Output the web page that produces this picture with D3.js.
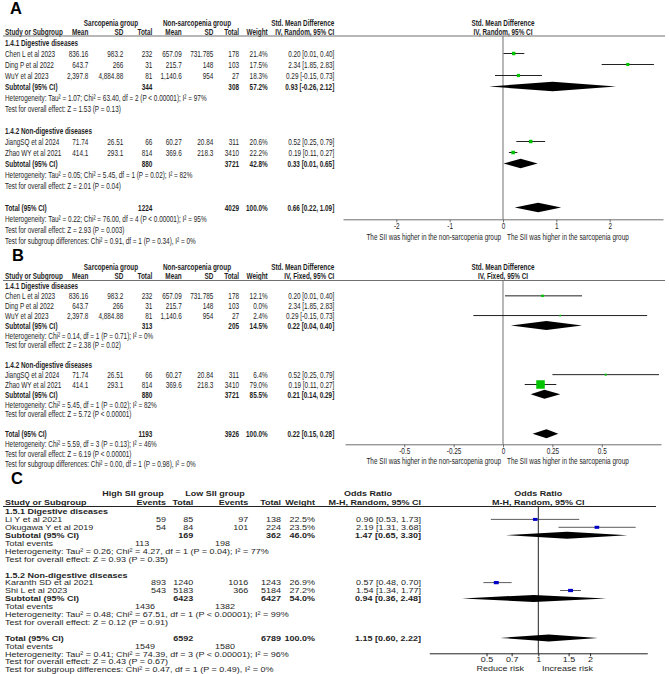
<!DOCTYPE html>
<html lang="en">
<head>
<meta charset="UTF-8">
<title>Forest plots</title>
<script src="https://d3js.org/d3.v7.min.js"></script>
<style>
  body { margin: 0; background: #fff; }
  svg text { font-family: "Liberation Sans", Arial, sans-serif; fill: #1e1e1e; }
</style>
</head>
<body>
<div id="chart"></div>
<script>
// ---- panels A and B: same five studies, std. mean difference ----
const subgroupsAB = ["1.4.1 Digestive diseases", "1.4.2 Non-digestive diseases"];
const studiesAB = ["Chen L et al 2023", "Ding P et al 2022", "WuY et al 2023", "JiangSQ et al 2024", "Zhao WY et al 2021"];
const studyGroupAB = [0, 0, 0, 1, 1];
const sarcMean = ["836.16", "643.7", "2,397.8", "71.74", "414.1"];
const sarcSD = ["983.2", "266", "4,884.88", "26.51", "293.1"];
const sarcN = [232, 31, 81, 66, 814];
const nonMean = ["657.09", "215.7", "1,140.6", "60.27", "369.6"];
const nonSD = ["731.785", "148", "954", "20.84", "218.3"];
const nonN = [178, 103, 27, 311, 3410];
const smd = [0.20, 2.34, 0.29, 0.52, 0.19];
const smdLo = [0.01, 1.85, -0.15, 0.25, 0.11];
const smdHi = [0.40, 2.83, 0.73, 0.79, 0.27];

// A - random effects
const weightA = [21.4, 17.5, 18.3, 20.6, 22.2];
const subNA = [[344, 308], [880, 3721]];
const subWeightA = [57.2, 42.8];
const subEstA = [[0.93, -0.26, 2.12], [0.33, 0.01, 0.65]];
const totalNA = [1224, 4029];
const totalEstA = [0.66, 0.22, 1.09];
const hetSubA = ["Heterogeneity: Tau\u00b2 = 1.07; Chi\u00b2 = 63.40, df = 2 (P < 0.00001); I\u00b2 = 97%",
                 "Heterogeneity: Tau\u00b2 = 0.05; Chi\u00b2 = 5.45, df = 1 (P = 0.02); I\u00b2 = 82%"];
const testSubA = ["Test for overall effect: Z = 1.53 (P = 0.13)", "Test for overall effect: Z = 2.01 (P = 0.04)"];
const totalTextA = ["Heterogeneity: Tau\u00b2 = 0.22; Chi\u00b2 = 76.00, df = 4 (P < 0.00001); I\u00b2 = 95%",
                    "Test for overall effect: Z = 2.93 (P = 0.003)",
                    "Test for subgroup differences: Chi\u00b2 = 0.91, df = 1 (P = 0.34), I\u00b2 = 0%"];
const ticksA = [-2, -1, 0, 1, 2];

// B - fixed effect
const weightB = [12.1, 0.0, 2.4, 6.4, 79.0];
const subNB = [[313, 205], [880, 3721]];
const subWeightB = [14.5, 85.5];
const subEstB = [[0.22, 0.04, 0.40], [0.21, 0.14, 0.29]];
const totalNB = [1193, 3926];
const totalEstB = [0.22, 0.15, 0.28];
const hetSubB = ["Heterogeneity: Chi\u00b2 = 0.14, df = 1 (P = 0.71); I\u00b2 = 0%",
                 "Heterogeneity: Chi\u00b2 = 5.45, df = 1 (P = 0.02); I\u00b2 = 82%"];
const testSubB = ["Test for overall effect: Z = 2.38 (P = 0.02)", "Test for overall effect: Z = 5.72 (P < 0.00001)"];
const totalTextB = ["Heterogeneity: Chi\u00b2 = 5.59, df = 3 (P = 0.13); I\u00b2 = 46%",
                    "Test for overall effect: Z = 6.19 (P < 0.00001)",
                    "Test for subgroup differences: Chi\u00b2 = 0.00, df = 1 (P = 0.98), I\u00b2 = 0%"];
const ticksB = [-0.5, -0.25, 0, 0.25, 0.5];

// ---- panel C: odds ratios ----
const subgroupsC = ["1.5.1 Digestive diseases", "1.5.2 Non-digestive diseases"];
const studiesC = ["Li Y et al 2021", "Okugawa Y et al 2019", "Karanth SD et al 2021", "Shi L et al 2023"];
const studyGroupC = [0, 0, 1, 1];
const highEvents = [59, 54, 893, 543];
const highTotal = [85, 84, 1240, 5183];
const lowEvents = [97, 101, 1016, 366];
const lowTotal = [138, 224, 1243, 5184];
const weightC = [22.5, 23.5, 26.9, 27.2];
const orEst = [0.96, 2.19, 0.57, 1.54];
const orLo = [0.53, 1.31, 0.48, 1.34];
const orHi = [1.73, 3.68, 0.70, 1.77];
const subNC = [[169, 362], [6423, 6427]];
const subEventsC = [[113, 198], [1436, 1382]];
const subWeightC = [46.0, 54.0];
const subEstC = [[1.47, 0.65, 3.30], [0.94, 0.36, 2.48]];
const hetSubC = ["Heterogeneity: Tau\u00b2 = 0.26; Chi\u00b2 = 4.27, df = 1 (P = 0.04); I\u00b2 = 77%",
                 "Heterogeneity: Tau\u00b2 = 0.48; Chi\u00b2 = 67.51, df = 1 (P < 0.00001); I\u00b2 = 99%"];
const testSubC = ["Test for overall effect: Z = 0.93 (P = 0.35)", "Test for overall effect: Z = 0.12 (P = 0.91)"];
const totalNC = [6592, 6789];
const totalEventsC = [1549, 1580];
const totalEstC = [1.15, 0.60, 2.22];
const totalTextC = ["Heterogeneity: Tau\u00b2 = 0.41; Chi\u00b2 = 74.39, df = 3 (P < 0.00001); I\u00b2 = 96%",
                    "Test for overall effect: Z = 0.43 (P = 0.67)",
                    "Test for subgroup differences: Chi\u00b2 = 0.47, df = 1 (P = 0.49), I\u00b2 = 0%"];
const ticksC = [0.5, 0.7, 1, 1.5, 2];

const W = 669, H = 674;
const svg = d3.select("#chart").append("svg").attr("width", W).attr("height", H);

function txt(g, x, y, s, o) {
  o = o || {};
  return g.append("text")
    .attr("transform", `translate(${x},${y}) scale(${o.sx || 1},${o.sy || 1})`)
    .attr("dy", "0.36em")
    .attr("text-anchor", o.anchor || "start")
    .attr("font-size", o.size || 10)
    .attr("font-weight", o.bold ? "bold" : "normal")
    .text(s);
}
const ciText = (e, lo, hi) => `${e.toFixed(2)} [${lo.toFixed(2)}, ${hi.toFixed(2)}]`;
const pct = w => w.toFixed(1) + "%";

function diamond(g, x, est, lo, hi, y, h) {
  g.append("path")
    .attr("d", `M${x(lo)},${y} L${x(est)},${y - h / 2} L${x(hi)},${y} L${x(est)},${y + h / 2} Z`)
    .attr("fill", "#000");
}

// panel letters
[["A", 10, 13.5], ["B", 12, 261], ["C", 11, 484]].forEach(d => {
  svg.append("text").attr("x", d[1]).attr("y", d[2]).attr("font-size", 16.5)
    .attr("font-weight", "bold").style("fill", "#000").text(d[0]);
});

// columns for A and B
const colAB = { name: 5, m1: 88.3, sd1: 123.3, n1: 152.3, m2: 181.7, sd2: 213.3, n2: 239, w: 267.7, ci: 334.3 };

function smdPanel(p) {
  const g = svg.append("g");
  const sx = 0.64;
  const lineCol = "#707070";
  const t = (x, y, s, o) => txt(g, x, y, s, Object.assign({ sx: sx, sy: 0.92, size: 10 }, o));
  const x = d3.scaleLinear().domain(p.domain).range(p.range);
  const x0 = x(0);
  const rowY = i => p.top + i * p.dy;

  // header
  t(111, p.h1, "Sarcopenia group", { anchor: "middle", bold: true });
  t(197, p.h1, "Non-sarcopenia group", { anchor: "middle", bold: true });
  t(colAB.ci, p.h1, "Std. Mean Difference", { anchor: "end", bold: true });
  t(x0, p.h1, "Std. Mean Difference", { anchor: "middle", bold: true });
  t(colAB.name, p.h2, "Study or Subgroup", { bold: true });
  [["m1", "Mean"], ["sd1", "SD"], ["n1", "Total"], ["m2", "Mean"], ["sd2", "SD"], ["n2", "Total"], ["w", "Weight"], ["ci", p.model]]
    .forEach(c => t(colAB[c[0]], p.h2, c[1], { anchor: "end", bold: true }));
  t(x0, p.h2, p.model, { anchor: "middle", bold: true });
  g.append("line").attr("x1", 3).attr("x2", 665).attr("y1", p.lineY).attr("y2", p.lineY)
    .attr("stroke", lineCol).attr("stroke-width", 1);
  g.append("line").attr("x1", x0).attr("x2", x0).attr("y1", p.lineY).attr("y2", p.axisY)
    .attr("stroke", lineCol).attr("stroke-width", 1);

  const [d0, d1] = p.domain;
  let r = 0;
  subgroupsAB.forEach((sg, k) => {
    t(colAB.name, rowY(r), sg, { bold: true });
    r++;
    studiesAB.forEach((name, i) => {
      if (studyGroupAB[i] !== k) return;
      const y = rowY(r);
      t(colAB.name, y, name);
      t(colAB.m1, y, sarcMean[i], { anchor: "end" });
      t(colAB.sd1, y, sarcSD[i], { anchor: "end" });
      t(colAB.n1, y, sarcN[i], { anchor: "end" });
      t(colAB.m2, y, nonMean[i], { anchor: "end" });
      t(colAB.sd2, y, nonSD[i], { anchor: "end" });
      t(colAB.n2, y, nonN[i], { anchor: "end" });
      t(colAB.w, y, pct(p.weights[i]), { anchor: "end" });
      t(colAB.ci, y, ciText(smd[i], smdLo[i], smdHi[i]), { anchor: "end" });
      // marker, only when inside the plotted range
      if (smdHi[i] > d0 && smdLo[i] < d1) {
        g.append("line").attr("x1", x(Math.max(smdLo[i], d0))).attr("x2", x(Math.min(smdHi[i], d1)))
          .attr("y1", y).attr("y2", y).attr("stroke", "#222").attr("stroke-width", 1);
      }
      if (smd[i] > d0 && smd[i] < d1 && p.weights[i] > 0) {
        const s = p.size(p.weights[i]);
        g.append("rect").attr("x", x(smd[i]) - s / 2).attr("y", y - s / 2)
          .attr("width", s).attr("height", s).attr("fill", "#00c400");
      }
      r++;
    });
    const y = rowY(r);
    t(colAB.name, y, "Subtotal (95% CI)", { bold: true });
    t(colAB.n1, y, p.subN[k][0], { anchor: "end", bold: true });
    t(colAB.n2, y, p.subN[k][1], { anchor: "end", bold: true });
    t(colAB.w, y, pct(p.subWeight[k]), { anchor: "end", bold: true });
    t(colAB.ci, y, ciText(...p.subEst[k]), { anchor: "end", bold: true });
    diamond(g, x, p.subEst[k][0], p.subEst[k][1], p.subEst[k][2], y, p.dh);
    r++;
    t(colAB.name, rowY(r), p.hetSub[k]); r++;
    t(colAB.name, rowY(r), p.testSub[k]); r++;
    r++;
  });
  const yT = rowY(r);
  t(colAB.name, yT, "Total (95% CI)", { bold: true });
  t(colAB.n1, yT, p.totalN[0], { anchor: "end", bold: true });
  t(colAB.n2, yT, p.totalN[1], { anchor: "end", bold: true });
  t(colAB.w, yT, "100.0%", { anchor: "end", bold: true });
  t(colAB.ci, yT, ciText(...p.totalEst), { anchor: "end", bold: true });
  diamond(g, x, p.totalEst[0], p.totalEst[1], p.totalEst[2], yT, p.dh);
  p.totalText.forEach((s, j) => t(colAB.name, rowY(r + 1 + j), s));

  // axis
  const ax = g.append("g").attr("transform", `translate(0,${p.axisY})`)
    .call(d3.axisBottom(x).tickValues(p.ticks).tickFormat(d => String(d))
      .tickSize(3).tickSizeOuter(0).tickPadding(0.5));
  ax.select(".domain").attr("stroke", lineCol);
  ax.selectAll(".tick line").attr("stroke", lineCol);
  ax.selectAll(".tick text").attr("transform", `scale(${sx},0.92)`).attr("font-size", 10);
  t(x0 - 2, p.capY, "The SII was higher in the non-sarcopenia group", { anchor: "end" });
  t(x0 + 4, p.capY, "The SII was higher in the sarcopenia group");
}

smdPanel({
  top: 42.5, dy: 11, h1: 22.5, h2: 31.5, lineY: 36, axisY: 219.3, capY: 236.5, dh: 9.5,
  model: "IV, Random, 95% CI", domain: [-3, 3], range: [343, 663], ticks: ticksA,
  weights: weightA, size: w => Math.sqrt(w) * 0.75,
  subN: subNA, subWeight: subWeightA, subEst: subEstA, totalN: totalNA, totalEst: totalEstA,
  hetSub: hetSubA, testSub: testSubA, totalText: totalTextA
});

smdPanel({
  top: 286, dy: 9.85, h1: 266.5, h2: 275.8, lineY: 280.5, axisY: 444.3, capY: 461, dh: 9,
  model: "IV, Fixed, 95% CI", domain: [-0.8, 0.8], range: [345, 661], ticks: ticksB,
  weights: weightB, size: d3.scaleLinear().domain([0, 80]).range([1.4, 8.6]),
  subN: subNB, subWeight: subWeightB, subEst: subEstB, totalN: totalNB, totalEst: totalEstB,
  hetSub: hetSubB, testSub: testSubB, totalText: totalTextB
});

// ---- panel C ----
(function () {
  const g = svg.append("g");
  const t = (x, y, s, o) => txt(g, x, y, s, Object.assign({ size: 9, sy: 0.88 }, o));
  const col = { name: 5, e1: 166, n1: 193.3, e2: 248.3, n2: 281, w: 315, ci: 421, te1: 135, te2: 215 };
  const x = d3.scaleLog().domain([1 / 4.3, 4.3]).range([429.3, 647.3]);
  const x1 = x(1);
  const top = 511.5, dy = 7.9, lineY = 506.5, axisY = 653.3;
  const rowY = i => top + i * dy;

  t(133, 493.4, "High SII group", { anchor: "middle", bold: true });
  t(215, 493.4, "Low SII group", { anchor: "middle", bold: true });
  t(368, 493.4, "Odds Ratio", { anchor: "middle", bold: true });
  t(x1, 493.4, "Odds Ratio", { anchor: "middle", bold: true });
  t(col.name, 502.6, "Study or Subgroup", { bold: true });
  [["e1", "Events"], ["n1", "Total"], ["e2", "Events"], ["n2", "Total"], ["w", "Weight"], ["ci", "M-H, Random, 95% CI"]]
    .forEach(c => t(col[c[0]], 502.6, c[1], { anchor: "end", bold: true }));
  t(x1, 502.6, "M-H, Random, 95% CI", { anchor: "middle", bold: true });
  g.append("line").attr("x1", 3).attr("x2", 656).attr("y1", lineY).attr("y2", lineY).attr("stroke", "#222");
  g.append("line").attr("x1", x1).attr("x2", x1).attr("y1", lineY).attr("y2", axisY).attr("stroke", "#222");

  let r = 0;
  subgroupsC.forEach((sg, k) => {
    t(col.name, rowY(r), sg, { bold: true });
    r++;
    studiesC.forEach((name, i) => {
      if (studyGroupC[i] !== k) return;
      const y = rowY(r);
      t(col.name, y, name);
      t(col.e1, y, highEvents[i], { anchor: "end" });
      t(col.n1, y, highTotal[i], { anchor: "end" });
      t(col.e2, y, lowEvents[i], { anchor: "end" });
      t(col.n2, y, lowTotal[i], { anchor: "end" });
      t(col.w, y, pct(weightC[i]), { anchor: "end" });
      t(col.ci, y, ciText(orEst[i], orLo[i], orHi[i]), { anchor: "end" });
      g.append("line").attr("x1", x(orLo[i])).attr("x2", x(orHi[i])).attr("y1", y).attr("y2", y)
        .attr("stroke", "#333").attr("stroke-width", 0.8);
      const s = Math.sqrt(weightC[i]) * 0.95;
      g.append("rect").attr("x", x(orEst[i]) - s / 2).attr("y", y - s * 0.33)
        .attr("width", s).attr("height", s * 0.66).attr("fill", "#0000c8");
      r++;
    });
    let y = rowY(r);
    t(col.name, y, "Subtotal (95% CI)", { bold: true });
    t(col.n1, y, subNC[k][0], { anchor: "end", bold: true });
    t(col.n2, y, subNC[k][1], { anchor: "end", bold: true });
    t(col.w, y, pct(subWeightC[k]), { anchor: "end", bold: true });
    t(col.ci, y, ciText(...subEstC[k]), { anchor: "end", bold: true });
    diamond(g, x, subEstC[k][0], subEstC[k][1], subEstC[k][2], y, 7);
    r++;
    y = rowY(r);
    t(col.name, y, "Total events");
    t(col.te1, y, subEventsC[k][0]);
    t(col.te2, y, subEventsC[k][1]);
    r++;
    t(col.name, rowY(r), hetSubC[k]); r++;
    t(col.name, rowY(r), testSubC[k]); r++;
    r++;
  });
  let y = rowY(r);
  t(col.name, y, "Total (95% CI)", { bold: true });
  t(col.n1, y, totalNC[0], { anchor: "end", bold: true });
  t(col.n2, y, totalNC[1], { anchor: "end", bold: true });
  t(col.w, y, "100.0%", { anchor: "end", bold: true });
  t(col.ci, y, ciText(...totalEstC), { anchor: "end", bold: true });
  diamond(g, x, totalEstC[0], totalEstC[1], totalEstC[2], y, 7);
  r++;
  y = rowY(r);
  t(col.name, y, "Total events");
  t(col.te1, y, totalEventsC[0]);
  t(col.te2, y, totalEventsC[1]);
  totalTextC.forEach((s, j) => t(col.name, rowY(r + 1 + j), s));

  const ax = g.append("g").attr("transform", `translate(0,${axisY})`)
    .call(d3.axisBottom(x).tickValues(ticksC).tickFormat(d => String(d))
      .tickSize(3).tickSizeOuter(0).tickPadding(0.5));
  ax.select(".domain").attr("stroke", "#222");
  ax.selectAll(".tick line").attr("stroke", "#222");
  ax.selectAll(".tick text").attr("font-size", 9).attr("transform", "scale(1,0.88)");
  t(524, 668.3, "Reduce risk", { anchor: "end" });
  t(542, 668.3, "Increase risk");
})();
</script>
</body>
</html>
